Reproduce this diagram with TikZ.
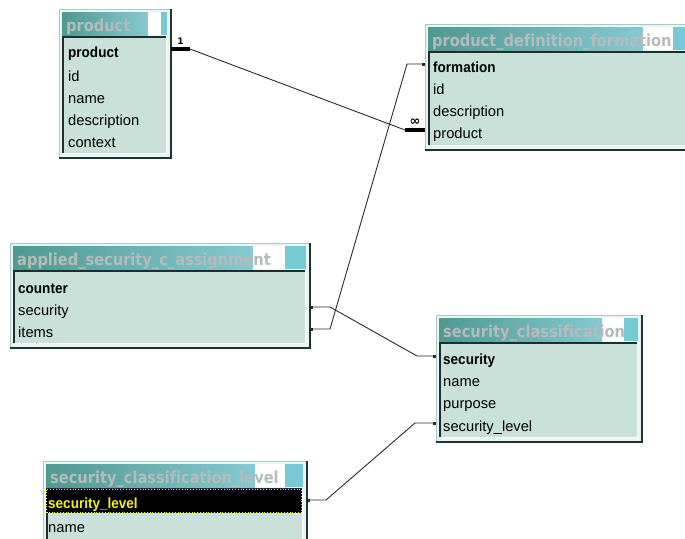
\documentclass[tikz,border=0pt]{standalone}
\usepackage{fontspec}
\setmainfont{Liberation Sans}
\newfontfamily\titlefont{DejaVu Sans}[FakeStretch=0.885, Ligatures=NoCommon]
\newfontfamily\keyfont{Liberation Sans}[FakeStretch=0.92]
\newfontfamily\symfont{DejaVu Sans}
\usetikzlibrary{arrows.meta,calc}

\definecolor{titleL}{HTML}{4F9990}
\definecolor{titleR}{HTML}{86C9D2}
\definecolor{capcyan}{HTML}{78C9D6}
\definecolor{titlegray}{HTML}{B6BBBB}
\definecolor{bodyfill}{HTML}{C9E1D9}
\definecolor{framefill}{HTML}{EAF4F2}
\definecolor{frameedge}{HTML}{A9CBC6}
\definecolor{shadowdark}{HTML}{1F3434}
\definecolor{bodyedge}{HTML}{1E2E2E}
\definecolor{linkgray}{HTML}{2A2A2A}
\definecolor{hiyellow}{HTML}{F2EE1A}

\tikzset{
  tblframe/.style={rectangle, draw=frameedge, fill=framefill, line width=1pt,
    inner sep=0pt, outer sep=0pt, anchor=north west},
  rowtext/.style={anchor=west, inner sep=0pt, text height=21.8pt, text depth=4pt,
    font=\fontsize{14.7}{17}\selectfont, text=black},
  keyrow/.style={rowtext, font=\keyfont\bfseries\fontsize{14.7}{17}\selectfont},
  titletext/.style={inner sep=0pt, anchor=base west, text=titlegray,
    font=\titlefont\bfseries\fontsize{16.5}{18}\selectfont},
  link/.style={draw=linkgray, line width=0.9pt},
  dots/.style={{Square[length=3pt,width=3pt]}-{Square[length=3pt,width=3pt]}},
  cardbar/.style={draw=black, line width=3.5pt},
  cardlabel/.style={font=\symfont\bfseries\fontsize{9}{10}\selectfont, inner sep=1pt},
  manylabel/.style={font=\symfont\bfseries\fontsize{13}{14}\selectfont, inner sep=0pt},
}

% table window: id, left, top, right, bottom, end of gradient, start of cap, title
\newcommand{\erdtable}[8]{%
  \node[tblframe, minimum width={#4-#2}, minimum height={#5-#3}] (#1) at (#2,#3) {};
  \draw[shadowdark, line width=1.5pt] (#4,#3) -- (#4,#5) -- (#2,#5);
  \fill[left color=titleL, right color=titleR] ({#2+3},{#3+3}) rectangle (#6,{#3+26});
  \fill[white] (#6,{#3+3}) rectangle (#7,{#3+26});
  \fill[capcyan] (#7,{#3+3}) rectangle ({#4-4},{#3+26});
  \begin{scope}
    \clip (#2,#3) rectangle (#7,{#3+30});
    \node[titletext] (#1-title) at ({#2+7},{#3+22}) {#8};
  \end{scope}
  \fill[bodyfill] ({#2+4},{#3+28}) rectangle ({#4-5},{#5-5});
  \draw[white, line width=0.8pt] ({#4-5},{#3+28}) -- ({#4-5},{#5-5}) -- ({#2+4},{#5-5});
  \draw[bodyedge, line width=1.2pt] ({#2+4},{#5-5}) -- ({#2+4},{#3+28}) -- ({#4-5},{#3+28});
}

\begin{document}
\begin{tikzpicture}[x=1pt, y=-1pt]
  \useasboundingbox (0,0) rectangle (685,538);

  % --- product
  \erdtable{tA}{59}{9}{171}{158}{148}{161}{product}
  \node[keyrow] (A1) at (68,49) {product};
  \node[rowtext] (A2) at (68,73) {id};
  \node[rowtext] (A3) at (68,95) {name};
  \node[rowtext] (A4) at (68,117) {description};
  \node[rowtext] (A5) at (68,139) {context};

  % --- product_definition_formation
  \erdtable{tB}{425}{24}{690}{150}{643}{673}{product\_definition\_formation}
  \node[keyrow] (B1) at (433,64) {formation};
  \node[rowtext] (B2) at (433,86) {id};
  \node[rowtext] (B3) at (433,108) {description};
  \node[rowtext] (B4) at (433,130) {product};

  % --- applied_security_c_assignment
  \erdtable{tC}{10}{243}{310}{348}{253}{285}{applied\_security\_c\_assignment}
  \node[keyrow] (C1) at (18,285) {counter};
  \node[rowtext] (C2) at (18,307) {security};
  \node[rowtext] (C3) at (18,329) {items};

  % --- security_classification
  \erdtable{tD}{436}{315}{642}{442}{602}{624}{security\_classification}
  \node[keyrow] (D1) at (443,356) {security};
  \node[rowtext] (D2) at (443,378) {name};
  \node[rowtext] (D3) at (443,400) {purpose};
  \node[rowtext] (D4) at (443,423) {security\_level};

  % --- security_classification_level (first row selected)
  \erdtable{tE}{43}{461}{307}{548}{255}{285}{security\_classification\_level}
  \fill[black] (46,489) rectangle (302,513);
  \draw[hiyellow, dotted, line width=0.8pt] (46.5,489.5) rectangle (301.5,512.5);
  \node[keyrow, text=hiyellow] (E1) at (48,500) {security\_level};
  \node[rowtext] (E2) at (48,524) {name};

  % --- relationships
  \draw[cardbar] (A1 -| tA.east) -- ++(19,0) node[midway, above=2pt, cardlabel] {1};
  \draw[link] ($(A1 -| tA.east)+(19,0)$) -- ($(B4 -| tB.west)+(-20,0)$);
  \draw[cardbar] ($(B4 -| tB.west)+(-20,0)$) -- (B4 -| tB.west)
    node[midway, above=2.5pt, manylabel] {∞};

  \draw[link, dots] (C3 -| tC.east) -- ++(20,0) -- ($(B1 -| tB.west)+(-18,0)$) -- (B1 -| tB.west);
  \draw[link, dots] (C2 -| tC.east) -- ++(20,0) -- ($(D1 -| tD.west)+(-19,0)$) -- (D1 -| tD.west);
  \draw[link, dots] (E1 -| tE.east) -- ++(19,0) -- ($(D4 -| tD.west)+(-21,0)$) -- (D4 -| tD.west);
\end{tikzpicture}
\end{document}
